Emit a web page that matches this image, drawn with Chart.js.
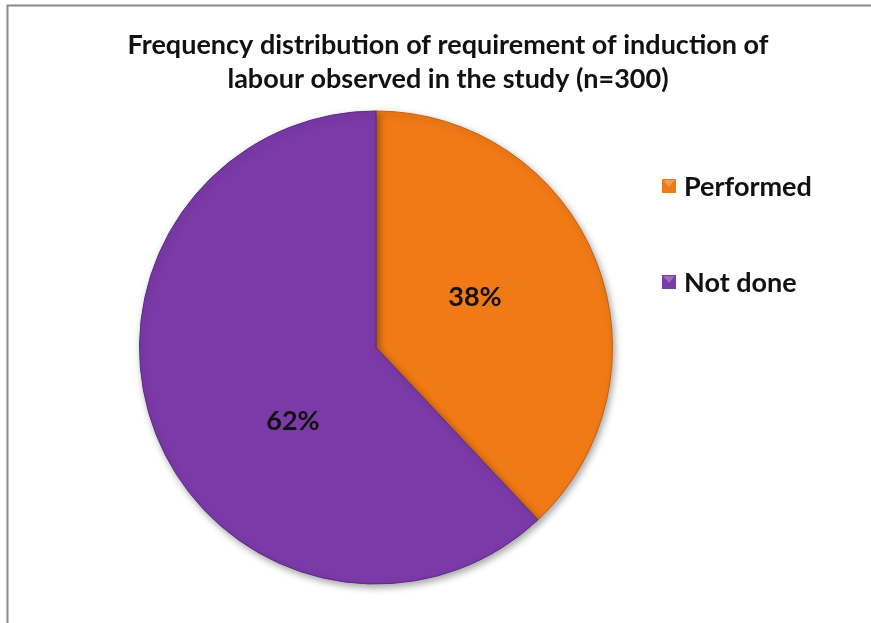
<!DOCTYPE html>
<html>
<head>
<meta charset="utf-8">
<script src="https://cdn.jsdelivr.net/npm/chart.js@4.4.1/dist/chart.umd.min.js"></script>
<style>
  html, body { margin: 0; padding: 0; background: #ffffff; }
  #wrap { width: 871px; height: 623px; position: relative; }
</style>
</head>
<body>
<div id="wrap"><canvas id="c" width="871" height="623"></canvas></div>
<script>
// Induction of labour, share of cases (n=300)
const categories = ['Performed', 'Not done'];
const percentValues = [38, 62];
const sliceColors = ['#F07A16', '#7B3AA8'];
const titleLines = [
  'Frequency distribution of requirement of induction of',
  'labour observed in the study (n=300)'
];

const FONT = 'Lato, "Liberation Sans", sans-serif';

// Frame line along the top and left edges of the chart panel
const framePlugin = {
  id: 'frame',
  beforeDraw(chart) {
    const ctx = chart.ctx;
    ctx.save();
    ctx.fillStyle = '#ffffff';
    ctx.fillRect(0, 0, chart.width, chart.height);
    ctx.strokeStyle = '#8a8a8a';
    ctx.lineWidth = 2;
    ctx.beginPath();
    ctx.moveTo(7.5, chart.height);
    ctx.lineTo(7.5, 5.5);
    ctx.lineTo(chart.width, 5.5);
    ctx.stroke();
    ctx.restore();
  }
};

// Soft drop shadow under the pie
const shadowPlugin = {
  id: 'pieShadow',
  beforeDatasetsDraw(chart) {
    const ctx = chart.ctx;
    ctx.save();
    ctx.shadowColor = 'rgba(0,0,0,0.35)';
    ctx.shadowBlur = 7;
    ctx.shadowOffsetX = 2;
    ctx.shadowOffsetY = 3;
  },
  afterDatasetsDraw(chart) {
    chart.ctx.restore();
  }
};

// Title, legend and percentage labels
const textPlugin = {
  id: 'texts',
  afterDraw(chart, args, opts) {
    const ctx = chart.ctx;
    ctx.save();
    ctx.fillStyle = '#111111';
    ctx.textBaseline = 'middle';

    // title
    ctx.textAlign = 'center';
    ctx.font = 'bold 27px ' + FONT;
    titleLines.forEach((line, i) => ctx.fillText(line, opts.titleX, opts.titleY + i * opts.titleGap));

    // legend
    ctx.textAlign = 'left';
    ctx.font = 'bold 27px ' + FONT;
    categories.forEach((name, i) => {
      const y = opts.legendY + i * opts.legendGap;
      const s = 14;
      const x = opts.legendX;
      ctx.fillStyle = sliceColors[i];
      ctx.fillRect(x, y - s / 2, s, s);
      ctx.fillStyle = 'rgba(255,255,255,0.25)';
      ctx.beginPath();
      ctx.moveTo(x + 1, y - s / 2 + 1);
      ctx.lineTo(x + s - 1, y - s / 2 + 1);
      ctx.lineTo(x + s / 2, y + 1);
      ctx.closePath();
      ctx.fill();
      ctx.fillStyle = '#111111';
      ctx.fillText(name, x + s + 8, y + 1);
    });

    // percentage labels inside the slices
    ctx.textAlign = 'center';
    ctx.font = 'bold 27px ' + FONT;
    const meta = chart.getDatasetMeta(0);
    meta.data.forEach((arc, i) => {
      const p = arc.getProps(['x', 'y', 'startAngle', 'endAngle', 'outerRadius'], true);
      const a = p.startAngle + (p.endAngle - p.startAngle) * opts.angleFrac[i];
      const r = p.outerRadius * opts.radiusFrac;
      ctx.fillText(percentValues[i] + '%', p.x + Math.cos(a) * r, p.y + Math.sin(a) * r);
    });
    ctx.restore();
  }
};

new Chart(document.getElementById('c'), {
  type: 'pie',
  data: {
    labels: categories,
    datasets: [{
      data: percentValues,
      backgroundColor: sliceColors,
      borderColor: ['#C85F0C', '#5E2A85'],
      borderWidth: 1
    }]
  },
  options: {
    responsive: false,
    animation: false,
    events: [],
    layout: { padding: { left: 139, right: 258, top: 110, bottom: 38 } },
    plugins: {
      legend: { display: false },
      tooltip: { enabled: false },
      title: { display: false },
      texts: {
        titleX: 448, titleY: 45, titleGap: 34,
        legendX: 662, legendY: 186, legendGap: 96,
        angleFrac: [0.46, 0.41], radiusFrac: 0.47
      }
    }
  },
  plugins: [framePlugin, shadowPlugin, textPlugin]
});
</script>
</body>
</html>
